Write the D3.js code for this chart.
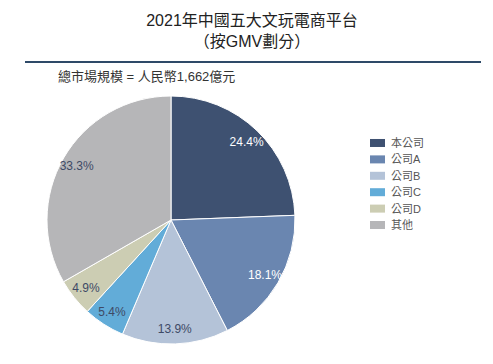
<!DOCTYPE html>
<html>
<head>
<meta charset="utf-8">
<script src="https://cdn.jsdelivr.net/npm/d3@7"></script>
<style>
  body { margin: 0; background: #fff; }
  text { font-family: "Liberation Sans", Arial, "Noto Sans CJK TC", sans-serif; }
</style>
</head>
<body>
<div id="chart"></div>
<script>
// data
const companies = ["本公司", "公司A", "公司B", "公司C", "公司D", "其他"];
const shares = [24.4, 18.1, 13.9, 5.4, 4.9, 33.3];
const colors = ["#3e5171", "#6a86b0", "#b4c3d8", "#62acd8", "#cccdb3", "#b6b6b8"];
const labelColors = ["#ffffff", "#ffffff", "#3e4a66", "#3e4a66", "#3e4a66", "#3e4a66"];

const width = 493, height = 364;
const svg = d3.select("#chart").append("svg")
    .attr("width", width)
    .attr("height", height);

// title
svg.append("text").attr("x", 252).attr("y", 26)
    .attr("text-anchor", "middle").attr("font-size", 16).attr("fill", "#222")
    .text("2021年中國五大文玩電商平台");
svg.append("text").attr("x", 252).attr("y", 47)
    .attr("text-anchor", "middle").attr("font-size", 16).attr("fill", "#222")
    .text("（按GMV劃分）");

// rule under title
svg.append("line").attr("x1", 25).attr("x2", 481).attr("y1", 62).attr("y2", 62)
    .attr("stroke", "#2e4a68").attr("stroke-width", 2);

svg.append("text").attr("x", 58).attr("y", 81)
    .attr("font-size", 13).attr("fill", "#333")
    .text("總市場規模 = 人民幣1,662億元");

// pie
const cx = 171, cy = 220, r = 124;
const pie = d3.pie().sort(null).value(d => d);
const arc = d3.arc().innerRadius(0).outerRadius(r);
const labelArc = d3.arc().innerRadius(109).outerRadius(109);

const g = svg.append("g").attr("transform", `translate(${cx},${cy})`);
const arcs = pie(shares);

g.selectAll("path")
    .data(arcs)
    .enter()
    .append("path")
    .attr("d", arc)
    .attr("fill", (d, i) => colors[i])
    .attr("stroke", "#fff")
    .attr("stroke-width", 1);

g.selectAll("text.lbl")
    .data(arcs)
    .enter()
    .append("text")
    .attr("class", "lbl")
    .attr("transform", d => `translate(${labelArc.centroid(d)})`)
    .attr("text-anchor", "middle")
    .attr("dy", "0.35em")
    .attr("font-size", 12)
    .attr("fill", (d, i) => labelColors[i])
    .text(d => d.data.toFixed(1) + "%");

// legend
const ly = d3.scaleBand().domain(companies).range([131.5, 236.5]).padding(0.4);
const legend = svg.append("g");
legend.selectAll("rect")
    .data(companies)
    .enter()
    .append("rect")
    .attr("x", 370)
    .attr("y", d => ly(d) + ly.bandwidth() / 2 - 4)
    .attr("width", 15)
    .attr("height", 8)
    .attr("fill", (d, i) => colors[i]);
legend.selectAll("text")
    .data(companies)
    .enter()
    .append("text")
    .attr("x", 391)
    .attr("y", d => ly(d) + ly.bandwidth() / 2)
    .attr("dy", "0.36em")
    .attr("font-size", 11)
    .attr("fill", "#555")
    .text(d => d);
</script>
</body>
</html>
